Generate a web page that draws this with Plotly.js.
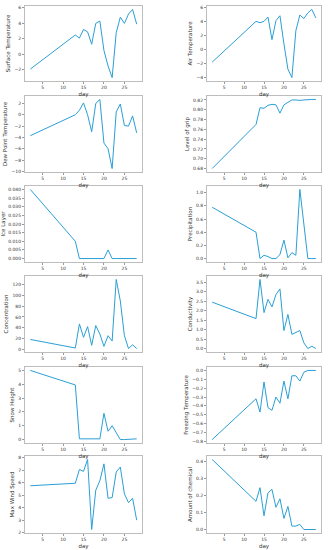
<!DOCTYPE html>
<html><head><meta charset="utf-8">
<script src="https://cdn.plot.ly/plotly-3.0.1.min.js"></script>
<style>html,body{margin:0;padding:0;background:#fff}#chart{width:329px;height:550px}</style>
</head><body><div id="chart"></div>
<script>
const days = [2,13,14,15,16,17,18,19,20,21,22,23,24,25,26,27,28];
const surfaceTemperature = [-1.9,2.5,2.1,3.2,2.9,1.3,4.0,4.3,0.5,-1.5,-3.0,2.8,4.8,4.0,5.2,5.8,3.9];
const airTemperature = [-1.8,4.0,3.8,4.0,4.6,1.4,4.1,4.8,0.8,-2.8,-4.0,2.7,4.9,4.4,5.2,5.7,4.5];
const dewPointTemperature = [-3.7,0.0,0.8,2.1,0.0,-3.0,2.0,2.7,-5.0,-6.0,-9.5,0.5,1.9,-1.9,-2.0,-0.2,-3.2];
const levelOfGrip = [0.68,0.77,0.804,0.803,0.809,0.811,0.81,0.793,0.81,0.815,0.82,0.82,0.819,0.82,0.821,0.821,0.821];
const iceLayer = [0.040,0.010,0,0,0,0,0,0,0,0.005,0,0,0,0,0,0,0];
const precipitation = [0.78,0.40,0.0,0.05,0.03,0.0,0.0,0.06,0.28,0.01,0.09,0.05,1.05,0.50,0.0,0.0,0.0];
const concentration = [18,2,47,22,42,7,44,28,5,25,15,130,90,25,1,8,1];
const conductivity = [2.45,1.58,3.65,1.9,2.6,2.2,2.85,3.15,0.95,1.8,0.75,0.85,0.95,0.3,0.0,0.12,0.0];
const snowHeight = [5.0,3.95,0.05,0.05,0.05,0.05,0.05,0.05,1.9,0.6,1.0,0.5,0.0,0.0,0.0,0.0,0.05];
const freezingTemperature = [-0.78,-0.32,-0.47,-0.13,-0.42,-0.45,-0.30,-0.37,-0.12,-0.32,-0.06,-0.06,-0.12,-0.02,0.0,0.0,0.0];
const maxWindSpeed = [5.75,5.95,7.05,6.9,7.85,2.25,5.4,6.15,7.5,4.75,4.8,6.85,7.25,5.1,4.4,4.75,3.0];
const amountOfChemical = [0.41,0.165,0.245,0.08,0.215,0.235,0.13,0.18,0.065,0.135,0.02,0.02,0.03,0.0,0.0,0.0,0.0];

const panels = [
  ["Surface Temperature", surfaceTemperature, 2, "d"],
  ["Air Temperature", airTemperature, 2, "d"],
  ["Dew Point Temperature", dewPointTemperature, 2, "d"],
  ["Level of grip", levelOfGrip, 0.02, ".2f"],
  ["Ice Layer", iceLayer, 0.005, ".3f"],
  ["Precipitation", precipitation, 0.2, ".1f"],
  ["Concentration", concentration, 20, "d"],
  ["Conductivity", conductivity, 0.5, ".1f"],
  ["Snow Height", snowHeight, 1, "d"],
  ["Freezing Temperature", freezingTemperature, 0.1, ".1f"],
  ["Max Wind Speed", maxWindSpeed, 1, "d"],
  ["Amount of chemical", amountOfChemical, 0.1, ".1f"]
];

const W = 329, H = 550;
const cols = [[25,142],[207,321]];
const rows = [[6,81],[96,172],[186,262],[276,352],[367,443],[456,533]];
const fontFam = "DejaVu Sans, sans-serif";
const data = [];
const layout = {
  width: W, height: H, margin:{l:0,r:0,t:0,b:0},
  paper_bgcolor:'#fff', plot_bgcolor:'#fff', showlegend:false,
  font:{family:fontFam, size:4.5, color:'#333'}
};
panels.forEach((p, i) => {
  const r = Math.floor(i/2), c = i%2;
  const n = i+1;
  const sfx = (n===1?'':n);
  const vals = p[1];
  const mn = Math.min(...vals), mx = Math.max(...vals);
  const pad = (mx-mn)*0.05;
  data.push({x: days, y: vals, type:'scatter', mode:'lines',
    line:{color:'#2a9fd6', width:1}, xaxis:'x'+sfx, yaxis:'y'+sfx});
  const common = {showline:true, mirror:true, linecolor:'#bdbdbd', linewidth:1,
    showgrid:false, zeroline:false, ticks:'outside', ticklen:2, tickwidth:0.6, tickcolor:'#555',
    tickfont:{size:4.5, family:fontFam, color:'#333'}};
  layout['xaxis'+sfx] = Object.assign({}, common, {
    domain:[cols[c][0]/W, cols[c][1]/W], range:[0.7,29.3], tickvals:[5,10,15,20,25],
    anchor:'y'+sfx,
    title:{text:'day', font:{size:5.5, family:fontFam, color:'#333'}, standoff:2}
  });
  layout['yaxis'+sfx] = Object.assign({}, common, {
    domain:[1-rows[r][1]/H, 1-rows[r][0]/H], range:[mn-pad, mx+pad], dtick:p[2], tick0:0,
    tickformat:p[3], anchor:'x'+sfx,
    title:{text:p[0], font:{size:5.5, family:fontFam, color:'#333'}, standoff:3}
  });
});
Plotly.newPlot('chart', data, layout, {displayModeBar:false, staticPlot:true});
</script></body></html>
